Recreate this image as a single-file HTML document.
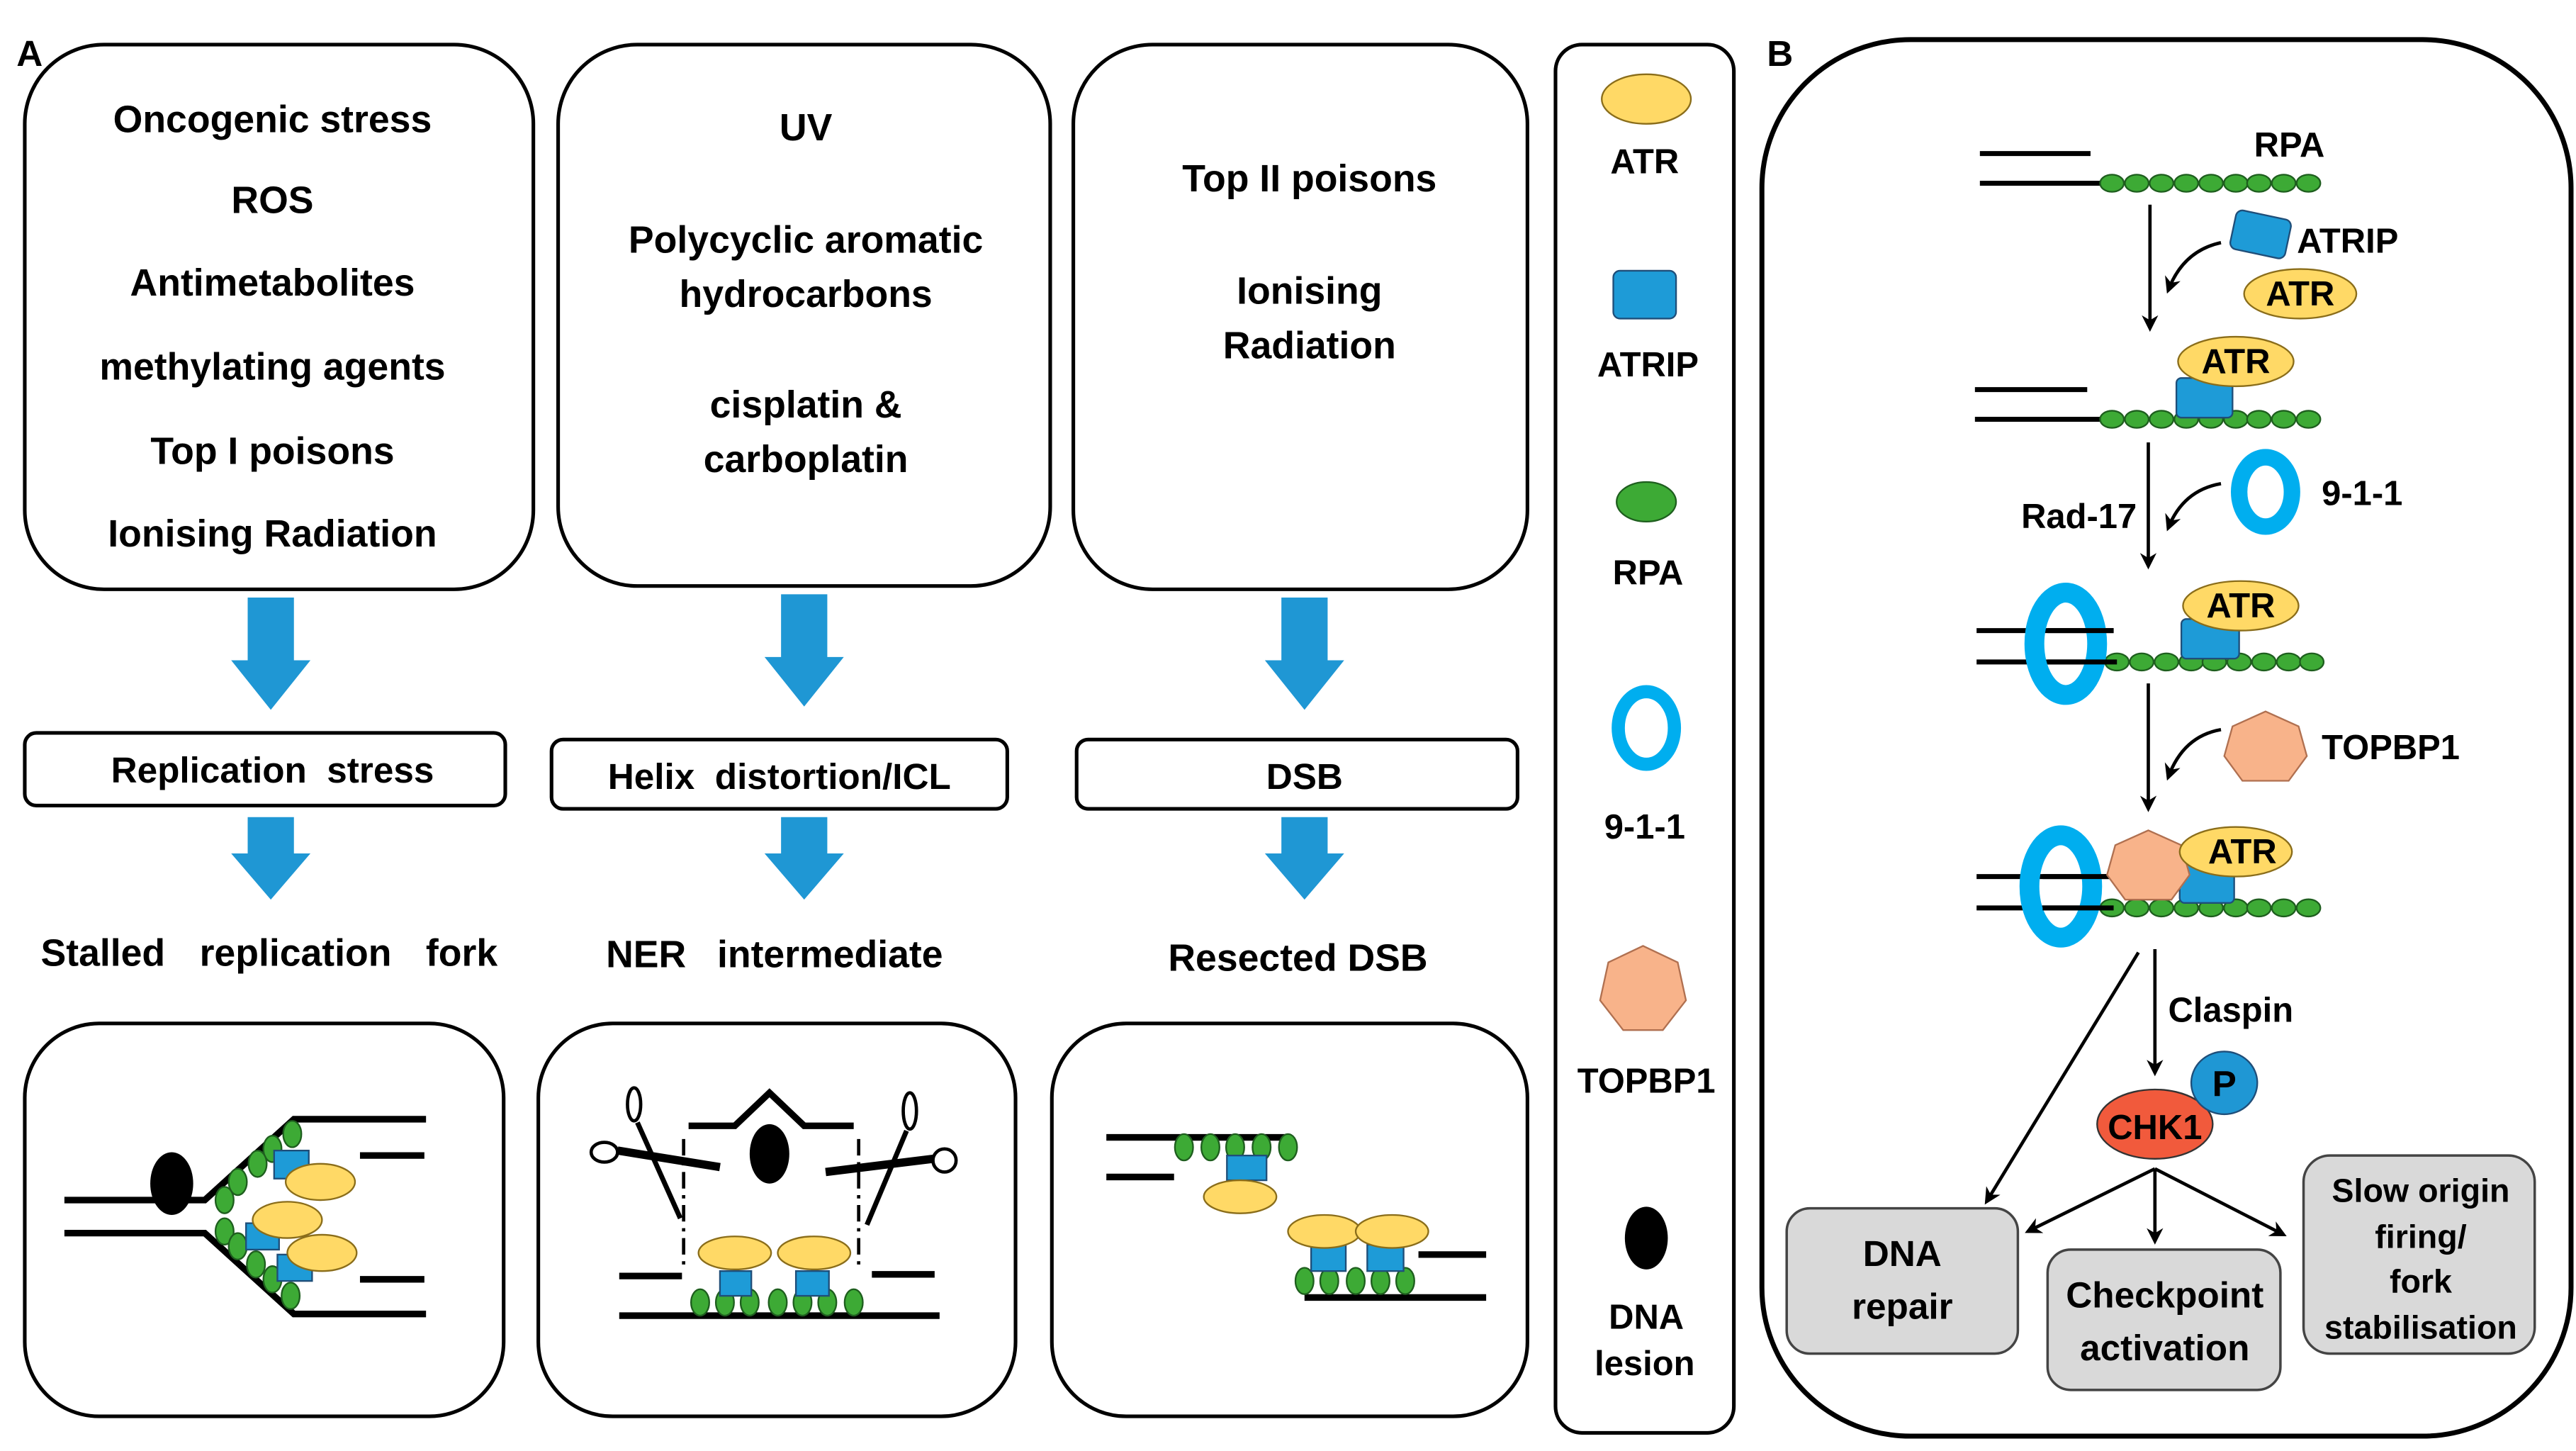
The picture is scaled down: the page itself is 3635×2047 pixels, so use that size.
<!DOCTYPE html>
<html><head><meta charset="utf-8"><style>
html,body{margin:0;padding:0;background:#fff;}
svg{display:block;}
text{font-family:"Liberation Sans Narrow","Liberation Sans",sans-serif;font-weight:bold;fill:#000;}
.w{font-family:"Liberation Sans",sans-serif;}
</style></head><body>
<svg width="3635" height="2047" viewBox="0 0 1560 879" preserveAspectRatio="none" xmlns="http://www.w3.org/2000/svg">
<defs>
<marker id="ah" markerWidth="10" markerHeight="10" refX="8" refY="5" orient="auto" markerUnits="userSpaceOnUse"><path d="M0,0 L10,5 L0,10 L3,5 Z" fill="#000"/></marker>
<g id="bead"><ellipse cx="0" cy="0" rx="7.2" ry="5.2" fill="#3DAA35" stroke="#1E5E1E" stroke-width="1"/></g>
<g id="vb"><ellipse cx="0" cy="0" rx="5.5" ry="8" fill="#3DAA35" stroke="#1E5E1E" stroke-width="1"/></g>
<path id="barrow" d="M-14,0 H14 V38 H24 L0,68 L-24,38 H-14 Z" fill="#1F97D4"/>
<path id="barrow2" d="M-14,0 H14 V22 H24 L0,50 L-24,22 H-14 Z" fill="#1F97D4"/>
</defs>

<text x="10" y="40" font-size="22" class="w">A</text>
<text x="1070" y="40" font-size="22" class="w">B</text>

<g fill="none" stroke="#000" stroke-width="2.2">
<rect x="15" y="27" width="308" height="330" rx="48"/>
<rect x="338" y="27" width="298" height="328" rx="48"/>
<rect x="650" y="27" width="275" height="330" rx="48"/>
<rect x="942" y="27" width="108" height="841" rx="16"/>
<rect x="1067" y="24" width="490" height="846" rx="90" stroke-width="3"/>
<rect x="15" y="444" width="291" height="44" rx="7"/>
<rect x="334" y="448" width="276" height="42" rx="7"/>
<rect x="652" y="448" width="267" height="42" rx="7"/>
<rect x="15" y="620" width="290" height="238" rx="45"/>
<rect x="326" y="620" width="289" height="238" rx="45"/>
<rect x="637" y="620" width="288" height="238" rx="45"/>
</g>

<g font-size="23" text-anchor="middle">
<text x="165" y="80">Oncogenic stress</text>
<text x="165" y="129">ROS</text>
<text x="165" y="179">Antimetabolites</text>
<text x="165" y="230">methylating agents</text>
<text x="165" y="281">Top I poisons</text>
<text x="165" y="331">Ionising Radiation</text>
<text x="488" y="85">UV</text>
<text x="488" y="153">Polycyclic aromatic</text>
<text x="488" y="186">hydrocarbons</text>
<text x="488" y="253">cisplatin &amp;</text>
<text x="488" y="286">carboplatin</text>
<text x="793" y="116">Top II poisons</text>
<text x="793" y="184">Ionising</text>
<text x="793" y="217">Radiation</text>
</g>

<use href="#barrow" x="164" y="362"/>
<use href="#barrow" x="487" y="360"/>
<use href="#barrow" x="790" y="362"/>
<use href="#barrow2" x="164" y="495"/>
<use href="#barrow2" x="487" y="495"/>
<use href="#barrow2" x="790" y="495"/>

<g font-size="22" text-anchor="middle" class="w">
<text class="w" x="165" y="474">Replication&#160; stress</text>
<text class="w" x="472" y="478">Helix&#160; distortion/ICL</text>
<text class="w" x="790" y="478">DSB</text>
<text class="w" x="163" y="585" font-size="23" word-spacing="4">Stalled&#160; replication&#160; fork</text>
<text class="w" x="469" y="586" font-size="23" word-spacing="3">NER&#160; intermediate</text>
<text class="w" x="786" y="588" font-size="23">Resected DSB</text>
</g>

<g stroke="#000" stroke-width="4" fill="none">
<path d="M39,727 H124 L178,678 H258"/>
<path d="M39,747 H124 L178,796 H258"/>
<path d="M218,700 H257 M218,775 H257"/>
</g>
<ellipse cx="104" cy="717" rx="13" ry="19" fill="#000"/>
<g>
<use href="#vb" x="177" y="687"/><use href="#vb" x="165" y="696"/><use href="#vb" x="156" y="705"/><use href="#vb" x="144" y="716"/><use href="#vb" x="136" y="727"/>
<use href="#vb" x="136" y="746"/><use href="#vb" x="144" y="755"/><use href="#vb" x="155" y="766"/><use href="#vb" x="165" y="775"/><use href="#vb" x="176" y="785"/>
</g>
<g fill="#1E9BD7" stroke="#1F4E79" stroke-width="1">
<rect x="166" y="697" width="21" height="17"/>
<rect x="149" y="741" width="20" height="16"/>
<rect x="168" y="760" width="21" height="16"/>
</g>
<g fill="#FFD966" stroke="#8a6d1a" stroke-width="1">
<ellipse cx="194" cy="716" rx="21" ry="11"/>
<ellipse cx="174" cy="739" rx="21" ry="11"/>
<ellipse cx="195" cy="759" rx="21" ry="11"/>
</g>

<g stroke="#000" stroke-width="4" fill="none">
<polyline points="417,682 445,682 466,662 487,682 517,682"/>
<path d="M375,797 H569 M375,773 H413 M528,772 H566"/>
</g>
<g stroke="#000" stroke-width="2" stroke-dasharray="10,4,2,4" fill="none">
<path d="M414,690 V768 M520,690 V768"/>
</g>
<ellipse cx="466" cy="699" rx="12" ry="18" fill="#000"/>
<g stroke="#000" fill="none">
<ellipse cx="384" cy="669" rx="4" ry="10" stroke-width="2"/>
<ellipse cx="366" cy="698" rx="8" ry="6" stroke-width="2"/>
<path d="M386,680 L412,738" stroke-width="3"/>
<path d="M374,697 L436,707" stroke-width="5"/>
<ellipse cx="551" cy="673" rx="4" ry="11" stroke-width="2"/>
<ellipse cx="572" cy="703" rx="7" ry="7" stroke-width="2"/>
<path d="M549,685 L525,742" stroke-width="3"/>
<path d="M565,702 L500,710" stroke-width="5"/>
</g>
<g>
<use href="#vb" x="424" y="789"/><use href="#vb" x="439" y="789"/><use href="#vb" x="454" y="789"/><use href="#vb" x="471" y="789"/><use href="#vb" x="486" y="789"/><use href="#vb" x="501" y="789"/><use href="#vb" x="517" y="789"/>
</g>
<g fill="#1E9BD7" stroke="#1F4E79" stroke-width="1">
<rect x="436" y="770" width="19" height="15"/>
<rect x="482" y="770" width="20" height="15"/>
</g>
<g fill="#FFD966" stroke="#8a6d1a" stroke-width="1">
<ellipse cx="445" cy="759" rx="22" ry="10"/>
<ellipse cx="493" cy="759" rx="22" ry="10"/>
</g>

<g stroke="#000" stroke-width="4" fill="none">
<path d="M670,689 H780 M670,713 H711 M790,786 H900 M859,760 H900"/>
</g>
<g>
<use href="#vb" x="717" y="695"/><use href="#vb" x="733" y="695"/><use href="#vb" x="748" y="695"/><use href="#vb" x="764" y="695"/><use href="#vb" x="780" y="695"/>
<use href="#vb" x="790" y="776"/><use href="#vb" x="805" y="776"/><use href="#vb" x="821" y="776"/><use href="#vb" x="836" y="776"/><use href="#vb" x="851" y="776"/>
</g>
<g fill="#1E9BD7" stroke="#1F4E79" stroke-width="1">
<rect x="743" y="700" width="24" height="15"/>
<rect x="794" y="754" width="21" height="16"/>
<rect x="828" y="754" width="22" height="16"/>
</g>
<g fill="#FFD966" stroke="#8a6d1a" stroke-width="1">
<ellipse cx="751" cy="725" rx="22" ry="10"/>
<ellipse cx="802" cy="746" rx="22" ry="10"/>
<ellipse cx="843" cy="746" rx="22" ry="10"/>
</g>

<ellipse cx="997" cy="60" rx="27" ry="15" fill="#FFD966" stroke="#8a6d1a" stroke-width="1"/>
<rect x="977" y="164" width="38" height="29" rx="4" fill="#1E9BD7" stroke="#1F4E79" stroke-width="1"/>
<ellipse cx="997" cy="304" rx="18" ry="12" fill="#3DAA35" stroke="#1E5E1E" stroke-width="1"/>
<ellipse cx="997" cy="441" rx="17" ry="22" fill="none" stroke="#00AEEF" stroke-width="8"/>
<polygon points="995,573 1016,583 1021,606 1007,624 983,624 969,606 974,583" fill="#F8B38A" stroke="#b07050" stroke-width="1"/>
<ellipse cx="997" cy="750" rx="13" ry="19" fill="#000"/>
<g font-size="21" text-anchor="middle" class="w">
<text class="w" x="996" y="105">ATR</text>
<text class="w" x="998" y="228">ATRIP</text>
<text class="w" x="998" y="354">RPA</text>
<text class="w" x="996" y="508">9-1-1</text>
<text class="w" x="997" y="662">TOPBP1</text>
<text class="w" x="997" y="805">DNA</text>
<text class="w" x="996" y="833">lesion</text>
</g>

<g stroke="#000" stroke-width="3" fill="none">
<path d="M1199,93 H1266 M1199,111 H1279"/>
<path d="M1196,236 H1264 M1196,254 H1279"/>
<path d="M1197,382 H1280 M1197,401 H1282"/>
<path d="M1197,531 H1280 M1197,550 H1280"/>
</g>
<g stroke="#000" stroke-width="2" fill="none" marker-end="url(#ah)">
<path d="M1302,124 V199"/>
<path d="M1345,147 Q1322,152 1313,176"/>
<path d="M1301,268 V343"/>
<path d="M1345,293 Q1322,297 1313,320"/>
<path d="M1301,414 V490"/>
<path d="M1345,442 Q1322,446 1313,471"/>
<path d="M1305,575 V650"/>
<path d="M1295,577 L1203,728"/>
<path d="M1305,708 L1228,746"/>
<path d="M1305,708 V752"/>
<path d="M1305,708 L1383,748"/>
</g>
<g>
<use href="#bead" x="1279" y="111"/><use href="#bead" x="1294" y="111"/><use href="#bead" x="1309" y="111"/><use href="#bead" x="1324" y="111"/><use href="#bead" x="1339" y="111"/><use href="#bead" x="1354" y="111"/><use href="#bead" x="1368" y="111"/><use href="#bead" x="1383" y="111"/><use href="#bead" x="1398" y="111"/>
<use href="#bead" x="1279" y="254"/><use href="#bead" x="1294" y="254"/><use href="#bead" x="1309" y="254"/><use href="#bead" x="1324" y="254"/><use href="#bead" x="1339" y="254"/><use href="#bead" x="1354" y="254"/><use href="#bead" x="1368" y="254"/><use href="#bead" x="1383" y="254"/><use href="#bead" x="1398" y="254"/>
<use href="#bead" x="1282" y="401"/><use href="#bead" x="1297" y="401"/><use href="#bead" x="1312" y="401"/><use href="#bead" x="1327" y="401"/><use href="#bead" x="1341" y="401"/><use href="#bead" x="1356" y="401"/><use href="#bead" x="1371" y="401"/><use href="#bead" x="1386" y="401"/><use href="#bead" x="1400" y="401"/>
<use href="#bead" x="1279" y="550"/><use href="#bead" x="1294" y="550"/><use href="#bead" x="1309" y="550"/><use href="#bead" x="1324" y="550"/><use href="#bead" x="1339" y="550"/><use href="#bead" x="1354" y="550"/><use href="#bead" x="1368" y="550"/><use href="#bead" x="1383" y="550"/><use href="#bead" x="1398" y="550"/>
</g>
<ellipse cx="1372" cy="298" rx="16" ry="21" fill="none" stroke="#00AEEF" stroke-width="10"/>
<ellipse cx="1251" cy="390" rx="19" ry="31" fill="none" stroke="#00AEEF" stroke-width="12"/>
<ellipse cx="1248" cy="537" rx="19" ry="31" fill="none" stroke="#00AEEF" stroke-width="12"/>
<g stroke="#000" stroke-width="3"><path d="M1240,382 H1280 M1240,401 H1282 M1237,531 H1280 M1237,550 H1280"/></g>
<g fill="#1E9BD7" stroke="#1F4E79" stroke-width="1">
<rect x="1352" y="130" width="34" height="24" rx="4" transform="rotate(12 1369 142)"/>
<rect x="1318" y="229" width="34" height="24" rx="3"/>
<rect x="1321" y="375" width="35" height="24" rx="3"/>
<rect x="1320" y="524" width="33" height="23" rx="3"/>
</g>
<polygon points="1372,431 1392,440 1397,458 1386,473 1358,473 1347,458 1352,440" fill="#F8B38A" stroke="#b07050" stroke-width="1"/>
<polygon points="1301,503 1321,512 1326,530 1315,545 1287,545 1276,530 1281,512" fill="#F8B38A" stroke="#b07050" stroke-width="1"/>
<g fill="#FFD966" stroke="#8a6d1a" stroke-width="1">
<ellipse cx="1393" cy="178" rx="34" ry="15"/>
<ellipse cx="1354" cy="219" rx="35" ry="15"/>
<ellipse cx="1357" cy="367" rx="35" ry="15"/>
<ellipse cx="1354" cy="516" rx="34" ry="15"/>
</g>
<g font-size="21" class="w">
<text class="w" x="1365" y="95">RPA</text>
<text class="w" x="1391" y="153">ATRIP</text>
<text class="w" x="1393" y="185" text-anchor="middle">ATR</text>
<text class="w" x="1354" y="226" text-anchor="middle">ATR</text>
<text class="w" x="1357" y="374" text-anchor="middle">ATR</text>
<text class="w" x="1358" y="523" text-anchor="middle">ATR</text>
<text class="w" x="1406" y="306">9-1-1</text>
<text class="w" x="1224" y="320">Rad-17</text>
<text class="w" x="1406" y="460">TOPBP1</text>
</g>
<text x="1313" y="619" font-size="21">Claspin</text>
<ellipse cx="1305" cy="681" rx="35" ry="21" fill="#F15A3C" stroke="#333" stroke-width="1"/>
<ellipse cx="1347" cy="656" rx="20" ry="19" fill="#1F97D4" stroke="#1F4E79" stroke-width="1"/>
<text x="1305" y="690" font-size="21" text-anchor="middle">CHK1</text>
<text x="1347" y="664" font-size="22" text-anchor="middle">P</text>
<g fill="#D9D9D9" stroke="#444" stroke-width="1.5">
<rect x="1082" y="732" width="140" height="88" rx="14"/>
<rect x="1240" y="757" width="141" height="85" rx="14"/>
<rect x="1395" y="700" width="140" height="120" rx="16"/>
</g>
<g font-size="22" text-anchor="middle">
<text x="1152" y="767">DNA</text>
<text x="1152" y="799">repair</text>
<text x="1311" y="792">Checkpoint</text>
<text x="1311" y="824">activation</text>
<text x="1466" y="728" font-size="20">Slow origin</text>
<text x="1466" y="756" font-size="20">firing/</text>
<text x="1466" y="783" font-size="20">fork</text>
<text x="1466" y="811" font-size="20">stabilisation</text>
</g>
</svg>
</body></html>
